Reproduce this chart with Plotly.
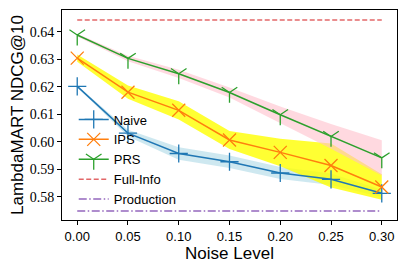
import plotly.graph_objects as go

noise = [0.00, 0.05, 0.10, 0.15, 0.20, 0.25, 0.30]
naive = [0.6202, 0.6032, 0.5958, 0.5928, 0.5887, 0.5864, 0.5813]
naive_std = [0.0003, 0.0012, 0.0023, 0.0023, 0.0022, 0.0021, 0.0013]
ips = [0.6305, 0.6181, 0.6115, 0.6007, 0.5962, 0.5914, 0.5836]
ips_std = [0.0013, 0.0024, 0.0033, 0.0033, 0.0050, 0.0080, 0.0046]
prs = [0.6389, 0.6304, 0.6248, 0.6180, 0.6099, 0.6020, 0.5942]
prs_std = [0.0005, 0.0010, 0.0015, 0.0018, 0.0030, 0.0045, 0.0064]
full_info = 0.6444
production = 0.5749
x_ticks = [0.00, 0.05, 0.10, 0.15, 0.20, 0.25, 0.30]
y_ticks = [0.58, 0.59, 0.60, 0.61, 0.62, 0.63, 0.64]

fig = go.Figure()

def band(y, s, color):
    up = [a + b for a, b in zip(y, s)]
    lo = [a - b for a, b in zip(y, s)]
    fig.add_trace(go.Scatter(x=noise + noise[::-1], y=up + lo[::-1], fill="toself",
                             fillcolor=color, line=dict(width=0), mode="lines",
                             showlegend=False, hoverinfo="skip"))

band(naive, naive_std, "rgba(173,216,230,0.6)")
band(ips, ips_std, "rgba(255,255,0,0.8)")
band(prs, prs_std, "rgba(255,192,203,0.6)")

def series(y, name, color, symbol):
    fig.add_trace(go.Scatter(x=noise, y=y, name=name, mode="lines+markers",
                             line=dict(color=color, width=1.5),
                             marker=dict(symbol=symbol, size=13, color=color,
                                         line=dict(color=color, width=1.3))))

series(naive, "Naive", "#1f77b4", "cross-thin")
series(ips, "IPS", "#ff7f0e", "x-thin")
series(prs, "PRS", "#2ca02c", "y-down")

fig.add_trace(go.Scatter(x=noise, y=[full_info] * len(noise), name="Full-Info", mode="lines",
                         line=dict(color="rgba(214,39,40,0.7)", width=1.5, dash="5px,2.5px")))
fig.add_trace(go.Scatter(x=noise, y=[production] * len(noise), name="Production", mode="lines",
                         line=dict(color="#9467bd", width=1.5, dash="8px,2.5px,1.5px,2.5px")))

fig.update_layout(
    width=399, height=261,
    margin=dict(l=54, r=10, t=2, b=49, autoexpand=False),
    paper_bgcolor="white", plot_bgcolor="white",
    font=dict(family="Liberation Sans", color="black"),
    legend=dict(x=0.035, y=0.55, xanchor="left", yanchor="top",
                bgcolor="rgba(0,0,0,0)", font=dict(size=13, family="Liberation Sans"),
                tracegroupgap=0, itemwidth=30),
)
fig.update_xaxes(range=[-0.015, 0.315], tickvals=x_ticks, tickformat=".2f",
                 showgrid=False, zeroline=False, showline=True, linecolor="black",
                 linewidth=1, mirror=True, ticks="outside", ticklen=4, tickcolor="black",
                 automargin=False,
                 tickfont=dict(size=13, family="Liberation Sans"),
                 title=dict(text="Noise Level", font=dict(size=17), standoff=2))
fig.update_yaxes(range=[0.5716, 0.648], tickvals=y_ticks, tickformat=".2f",
                 showgrid=False, zeroline=False, showline=True, linecolor="black",
                 linewidth=1, mirror=True, ticks="outside", ticklen=4, tickcolor="black",
                 automargin=False,
                 tickfont=dict(size=14, family="Liberation Serif"),
                 title=dict(text="LambdaMART NDCG@10", font=dict(size=17), standoff=12))

fig.write_html("out.html")
